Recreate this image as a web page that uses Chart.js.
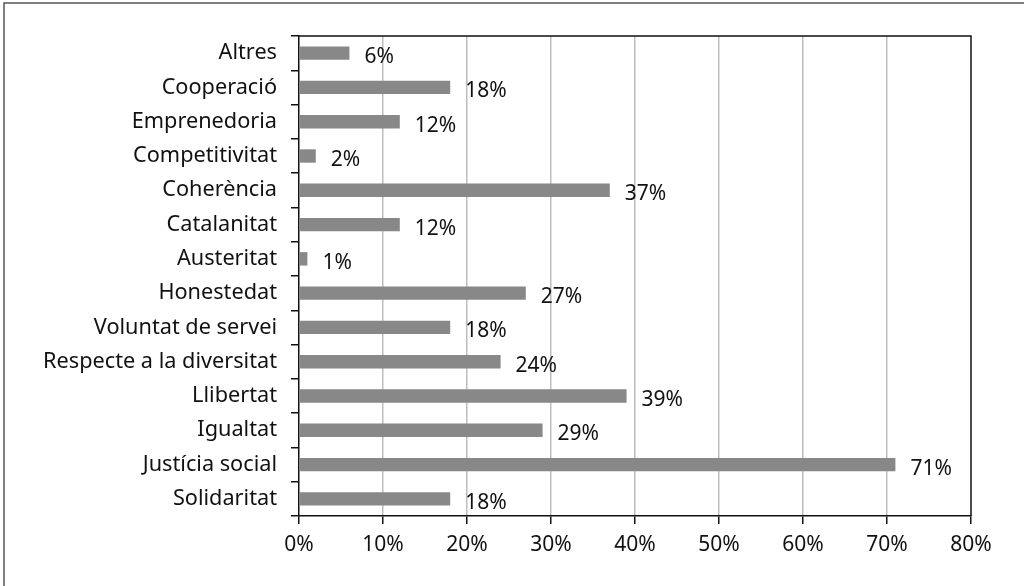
<!DOCTYPE html>
<html>
<head>
<meta charset="utf-8">
<script src="https://cdn.jsdelivr.net/npm/chart.js@4"></script>
<style>
  html, body { margin: 0; padding: 0; background: #fff; }
  #wrap { width: 1024px; height: 586px; position: relative; }
</style>
</head>
<body>
<div id="wrap"><canvas id="valors"></canvas></div>
<script>
// categories, top to bottom
var categories = ['Altres', 'Cooperació', 'Emprenedoria', 'Competitivitat', 'Coherència', 'Catalanitat', 'Austeritat', 'Honestedat', 'Voluntat de servei', 'Respecte a la diversitat', 'Llibertat', 'Igualtat', 'Justícia social', 'Solidaritat'];
var percentatges = [6, 18, 12, 2, 37, 12, 1, 27, 18, 24, 39, 29, 71, 18];
var xMax = 80;
var xStep = 10;

var FONT = 'Noto Sans';
var MIDA = 21;

// value labels to the right of each bar
var etiquetes = {
    id: 'etiquetes',
    afterDatasetsDraw: function(chart) {
        var ctx = chart.ctx;
        var meta = chart.getDatasetMeta(0);
        ctx.save();
        ctx.font = MIDA + 'px "' + FONT + '"';
        ctx.fillStyle = '#111';
        ctx.textAlign = 'left';
        ctx.textBaseline = 'middle';
        meta.data.forEach(function(bar, i) {
            ctx.fillText(percentatges[i] + '%', bar.x + 15, bar.y + 4);
        });
        ctx.restore();
    }
};

// plot frame and outer frame
var marcs = {
    id: 'marcs',
    beforeDatasetsDraw: function(chart) {
        var ctx = chart.ctx;
        var a = chart.chartArea;
        ctx.save();
        ctx.strokeStyle = '#111';
        ctx.lineWidth = 1.5;
        ctx.beginPath();
        ctx.moveTo(a.left, a.top);
        ctx.lineTo(a.right, a.top);
        ctx.lineTo(a.right, a.bottom);
        ctx.stroke();
        ctx.strokeStyle = '#555';
        ctx.lineWidth = 1.5;
        ctx.strokeRect(4, 3, chart.width + 20, chart.height + 20);
        ctx.restore();
    }
};

var ctx = document.getElementById('valors').getContext('2d');
var grafic = new Chart(ctx, {
    type: 'bar',
    data: {
        labels: categories,
        datasets: [{
            data: percentatges,
            backgroundColor: '#888888',
            borderWidth: 0,
            categoryPercentage: 1,
            barPercentage: 0.39
        }]
    },
    options: {
        indexAxis: 'y',
        responsive: true,
        maintainAspectRatio: false,
        animation: false,
        layout: {
            padding: { top: 36, right: 53, left: 0, bottom: 0 }
        },
        plugins: {
            legend: { display: false },
            tooltip: { enabled: false }
        },
        scales: {
            x: {
                min: 0,
                max: xMax,
                ticks: {
                    stepSize: xStep,
                    color: '#111',
                    font: { family: FONT, size: MIDA },
                    padding: 8,
                    callback: function(v) { return v + '%'; }
                },
                grid: {
                    color: function(c) { return c.tick && c.tick.value > 0 && c.tick.value < xMax ? '#bdbdbd' : 'rgba(0,0,0,0)'; },
                    lineWidth: 1.5,
                    drawTicks: true,
                    tickLength: 8,
                    tickColor: '#111'
                },
                border: { color: '#111', width: 1.5 },
                afterFit: function(scale) { scale.height = 70; }
            },
            y: {
                ticks: {
                    color: '#111',
                    font: { family: FONT, size: 21.7 },
                    padding: 14
                },
                grid: {
                    offset: true,
                    drawOnChartArea: false,
                    drawTicks: true,
                    tickLength: 8,
                    tickColor: '#111',
                    lineWidth: 1.5
                },
                border: { color: '#111', width: 1.5 },
                afterFit: function(scale) { scale.width = 299; }
            }
        }
    },
    plugins: [marcs, etiquetes]
});
</script>
</body>
</html>
